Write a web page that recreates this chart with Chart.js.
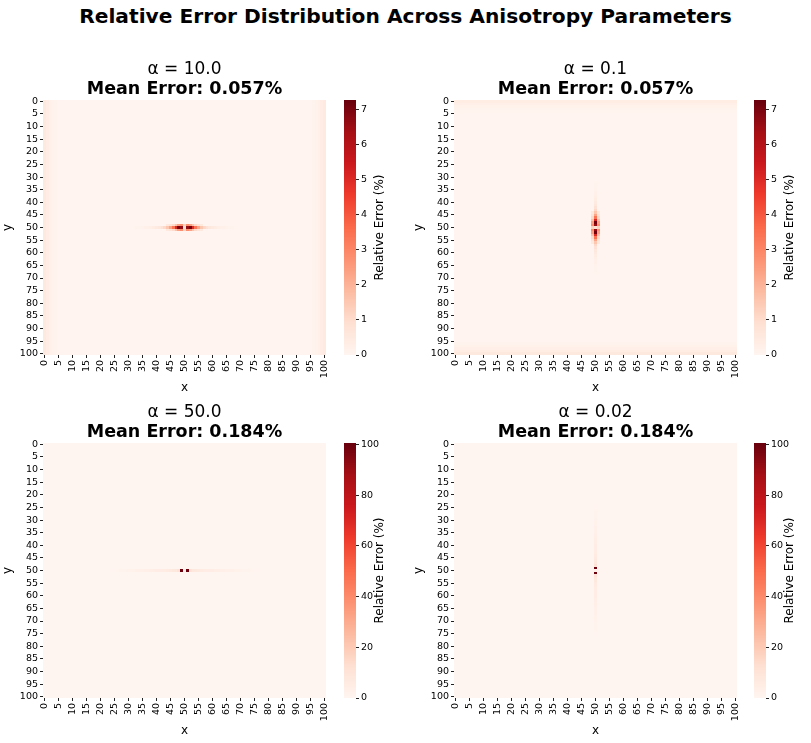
<!DOCTYPE html>
<html>
<head>
<meta charset="utf-8">
<script src="https://cdn.jsdelivr.net/npm/chart.js@4.4.1/dist/chart.umd.min.js"></script>
<style>
  body { margin: 0; background: #fff; }
  #page { position: relative; width: 811px; height: 743px; overflow: hidden; }
  #suptitle { position: absolute; left: 0; top: 4px; width: 811px; text-align: center;
              font: bold 20.2px 'DejaVu Sans'; color: #000; line-height: 24px; }
  canvas { position: absolute; }
</style>
</head>
<body>
<div id="page">
  <div id="suptitle">Relative Error Distribution Across Anisotropy Parameters</div>
</div>
<script>
var N = 101;
var tickLabels = ['0','5','10','15','20','25','30','35','40','45','50','55','60','65','70','75','80','85','90','95','100'];
var alphas = ['10.0', '0.1', '50.0', '0.02'];
var meanErrors = ['0.057', '0.057', '0.184', '0.184'];
var vmaxes = [7.26, 7.26, 100.6, 100.6];
var cbTicksSmall = [0, 1, 2, 3, 4, 5, 6, 7];
var cbTicksLarge = [0, 20, 40, 60, 80, 100];

// alpha = 10.0 : streak along row 50, brighter edge columns
var bg10 = 0.03;
var edgeLo10 = [0.50, 0.34, 0.22, 0.13, 0.07];          // columns 0..4
var edgeHi10 = [0.07, 0.13, 0.22, 0.34, 0.48];          // columns 96..100
var streakFrom10 = 32;                                   // row 50, columns 32..68
var streak10 = [0.06, 0.08, 0.10, 0.13, 0.17, 0.22, 0.28, 0.36,
                0.46, 0.60, 0.80, 1.10, 1.55, 2.3, 3.4, 5.0, 7.1, 6.6,
                0.9,
                6.6, 7.1, 5.0, 3.4, 2.3, 1.55, 1.10, 0.80, 0.60, 0.46,
                0.36, 0.28, 0.22, 0.17, 0.13, 0.10, 0.08, 0.06];
var sideFrom10 = 44;                                     // rows 49 and 51, columns 44..56
var side10 = [0.5, 0.7, 1.0, 1.6, 2.4, 2.8, 1.2, 2.8, 2.4, 1.6, 1.0, 0.7, 0.5];

// alpha = 0.1 : streak along column 50, brighter edge rows
var bg01 = 0.03;
var edgeLo01 = [0.38, 0.24, 0.14, 0.08, 0.05];          // rows 0..4
var edgeHi01 = [0.08, 0.14, 0.24, 0.36, 0.50];          // rows 96..100
var streakFrom01 = 32;                                   // column 50, rows 32..68
var streak01 = [0.06, 0.08, 0.10, 0.13, 0.17, 0.22, 0.28, 0.36,
                0.46, 0.60, 0.80, 1.10, 1.55, 2.3, 3.4, 5.0, 7.1, 6.6,
                0.9,
                6.6, 7.1, 5.0, 3.4, 2.3, 1.55, 1.10, 0.80, 0.60, 0.46,
                0.36, 0.28, 0.22, 0.17, 0.13, 0.10, 0.08, 0.06];
var sideFrom01 = 44;                                     // columns 49 and 51, rows 44..56
var side01 = [0.5, 0.7, 1.0, 1.6, 2.4, 2.8, 1.2, 2.8, 2.4, 1.6, 1.0, 0.7, 0.5];

// alpha = 50.0 : faint streak on row 50, two saturated cells
var bg50 = 0.16;
var streakFrom50 = 24;                                   // row 50, columns 24..76
var streak50 = [0.5, 0.6, 0.8, 1.0, 1.2, 1.4, 1.6, 1.9,
                2.1, 2.4, 2.7, 3.0, 3.3, 3.6, 3.9, 4.2, 4.5, 4.8,
                5.1, 5.4, 5.8, 6.4, 7.2, 8.2, 10.0, 100.0,
                3.5,
                100.0, 10.0, 8.2, 7.2, 6.4, 5.8, 5.4, 5.1, 4.8, 4.5,
                4.2, 3.9, 3.6, 3.3, 3.0, 2.7, 2.4, 2.1, 1.9, 1.6,
                1.4, 1.2, 1.0, 0.8, 0.6, 0.5];

// alpha = 0.02 : faint streak on column 50, two saturated cells
var bg002 = 0.16;
var streakFrom002 = 24;                                  // column 50, rows 24..76
var streak002 = [0.5, 0.6, 0.8, 1.0, 1.2, 1.4, 1.6, 1.9,
                 2.1, 2.4, 2.7, 3.0, 3.3, 3.6, 3.9, 4.2, 4.5, 4.8,
                 5.1, 5.4, 5.8, 6.4, 7.2, 8.2, 10.0, 100.0,
                 3.5,
                 100.0, 10.0, 8.2, 7.2, 6.4, 5.8, 5.4, 5.1, 4.8, 4.5,
                 4.2, 3.9, 3.6, 3.3, 3.0, 2.7, 2.4, 2.1, 1.9, 1.6,
                 1.4, 1.2, 1.0, 0.8, 0.6, 0.5];

// matplotlib "Reds"
var redsStops = [[255,245,240],[254,224,210],[252,187,161],[252,146,114],[251,106,74],
                 [239,59,44],[203,24,29],[165,15,21],[103,0,13]];
function reds(t) {
    t = Math.max(0, Math.min(1, t));
    var p = t * (redsStops.length - 1);
    var i = Math.min(Math.floor(p), redsStops.length - 2);
    var f = p - i;
    var a = redsStops[i], b = redsStops[i + 1];
    return 'rgb(' + Math.round(a[0] + (b[0] - a[0]) * f) + ',' +
                    Math.round(a[1] + (b[1] - a[1]) * f) + ',' +
                    Math.round(a[2] + (b[2] - a[2]) * f) + ')';
}

// grid[row][col]; "vertical" means the listed profiles run along a column instead of a row
function buildGrid(bg, edgeLo, edgeHi, streakFrom, streak, sideFrom, side, vertical) {
    var g = [];
    for (var r = 0; r < N; r++) { g.push([]); for (var c = 0; c < N; c++) g[r].push(bg); }
    function set(along, across, v) { if (vertical) g[along][across] = v; else g[across][along] = v; }
    for (var a = 0; a < N; a++) {
        edgeLo.forEach(function (v, k) { set(k, a, v); });
        edgeHi.forEach(function (v, k) { set(N - edgeHi.length + k, a, v); });
    }
    streak.forEach(function (v, k) { set(streakFrom + k, 50, v); });
    side.forEach(function (v, k) { set(sideFrom + k, 49, v); set(sideFrom + k, 51, v); });
    return g;
}

var grids = [
    buildGrid(bg10, edgeLo10, edgeHi10, streakFrom10, streak10, sideFrom10, side10, false),
    buildGrid(bg01, edgeLo01, edgeHi01, streakFrom01, streak01, sideFrom01, side01, true),
    buildGrid(bg50, [], [], streakFrom50, streak50, 0, [], false),
    buildGrid(bg002, [], [], streakFrom002, streak002, 0, [], true)
];

Chart.defaults.font.family = 'DejaVu Sans';
Chart.defaults.color = '#000';

var tickPos = tickLabels.map(function (t) { return Number(t) + 0.5; });

function heatLayer(grid, vmax) {
    return {
        id: 'heatLayer',
        beforeDatasetsDraw: function (chart) {
            var ctx = chart.ctx, xs = chart.scales.x, ys = chart.scales.y;
            for (var r = 0; r < N; r++) {
                var y0 = Math.round(ys.getPixelForValue(r)), y1 = Math.round(ys.getPixelForValue(r + 1));
                for (var c = 0; c < N; c++) {
                    var x0 = Math.round(xs.getPixelForValue(c)), x1 = Math.round(xs.getPixelForValue(c + 1));
                    ctx.fillStyle = reds(grid[r][c] / vmax);
                    ctx.fillRect(x0, Math.min(y0, y1), x1 - x0, Math.abs(y1 - y0));
                }
            }
        }
    };
}

var colorbarLayer = {
    id: 'colorbarLayer',
    beforeDatasetsDraw: function (chart) {
        var ctx = chart.ctx, ys = chart.scales.y, a = chart.chartArea;
        var vmax = ys.max;
        for (var py = Math.floor(a.top); py < Math.ceil(a.bottom); py++) {
            ctx.fillStyle = reds(ys.getValueForPixel(py + 0.5) / vmax);
            ctx.fillRect(a.left, py, a.right - a.left, 1);
        }
    },
    afterDraw: function (chart) {
        var ctx = chart.ctx, a = chart.chartArea;
        ctx.save();
        ctx.translate(43.5, (a.top + a.bottom) / 2);
        ctx.rotate(-Math.PI / 2);
        ctx.font = '12px "DejaVu Sans"';
        ctx.fillStyle = '#000';
        ctx.textAlign = 'center';
        ctx.textBaseline = 'middle';
        ctx.fillText('Relative Error (%)', 0, 0);
        ctx.restore();
    }
};

function addCanvas(left, top, w, h) {
    var cv = document.createElement('canvas');
    cv.width = w; cv.height = h;
    cv.style.left = left + 'px'; cv.style.top = top + 'px';
    cv.style.width = w + 'px'; cv.style.height = h + 'px';
    document.getElementById('page').appendChild(cv);
    return cv;
}

var tickFont = { size: 9.5 };
var axisGrid = { drawOnChartArea: false, drawTicks: true, tickLength: 3, color: '#222' };

function heatChart(left, top, i) {
    var cv = addCanvas(left, top, 335, 344);
    return new Chart(cv, {
        type: 'scatter',
        data: { datasets: [{ data: [] }] },
        options: {
            responsive: false,
            animation: false,
            events: [],
            layout: { padding: { left: 0, right: 9, top: 0, bottom: 0 } },
            plugins: {
                legend: { display: false },
                tooltip: { enabled: false },
                title: {
                    display: true, fullSize: false,
                    text: 'α = ' + alphas[i],
                    font: { size: 17, weight: 'normal', lineHeight: 1.1 },
                    padding: { top: 4.6, bottom: 0.3 }
                },
                subtitle: {
                    display: true, fullSize: false,
                    text: 'Mean Error: ' + meanErrors[i] + '%',
                    color: '#000',
                    font: { size: 17.5, weight: 'bold', lineHeight: 1.1 },
                    padding: { top: 0, bottom: 1.2 }
                }
            },
            scales: {
                x: {
                    type: 'linear', min: 0, max: N,
                    afterBuildTicks: function (s) { s.ticks = tickPos.map(function (v) { return { value: v }; }); },
                    afterFit: function (s) { s.height = 45; s.paddingLeft = 0; s.paddingRight = 0; },
                    ticks: {
                        autoSkip: false, minRotation: 90, maxRotation: 90, padding: 2, font: tickFont,
                        callback: function (v, k) { return tickLabels[k]; }
                    },
                    grid: axisGrid,
                    border: { display: false },
                    title: { display: true, text: 'x', font: { size: 12 }, padding: { top: 0, bottom: 5 } }
                },
                y: {
                    type: 'linear', min: 0, max: N, reverse: true,
                    afterBuildTicks: function (s) { s.ticks = tickPos.map(function (v) { return { value: v }; }); },
                    afterFit: function (s) { s.width = 43; s.paddingTop = 0; s.paddingBottom = 0; },
                    ticks: {
                        autoSkip: false, padding: 2, font: tickFont,
                        callback: function (v, k) { return tickLabels[k]; }
                    },
                    grid: axisGrid,
                    border: { display: false },
                    title: { display: true, text: 'y', font: { size: 12 }, padding: { top: 1, bottom: 0 } }
                }
            }
        },
        plugins: [heatLayer(grids[i], vmaxes[i])]
    });
}

function colorbarChart(left, top, i, ticks) {
    var cv = addCanvas(left, top, 60, 280);
    return new Chart(cv, {
        type: 'scatter',
        data: { datasets: [{ data: [] }] },
        options: {
            responsive: false,
            animation: false,
            events: [],
            layout: { padding: { left: 8, right: 0, top: 10, bottom: 15 } },
            plugins: { legend: { display: false }, tooltip: { enabled: false } },
            scales: {
                x: { display: false, min: 0, max: 1 },
                y: {
                    position: 'right', min: 0, max: vmaxes[i],
                    afterBuildTicks: function (s) { s.ticks = ticks.map(function (v) { return { value: v }; }); },
                    afterFit: function (s) { s.width = 40; },
                    ticks: { padding: 2, font: tickFont },
                    grid: axisGrid,
                    border: { display: false }
                }
            }
        },
        plugins: [colorbarLayer]
    });
}

heatChart(0, 56, 0);
heatChart(411, 56, 1);
heatChart(0, 399, 2);
heatChart(411, 399, 3);
colorbarChart(336, 90, 0, cbTicksSmall);
colorbarChart(746, 90, 1, cbTicksSmall);
colorbarChart(336, 433, 2, cbTicksLarge);
colorbarChart(746, 433, 3, cbTicksLarge);
</script>
</body>
</html>
